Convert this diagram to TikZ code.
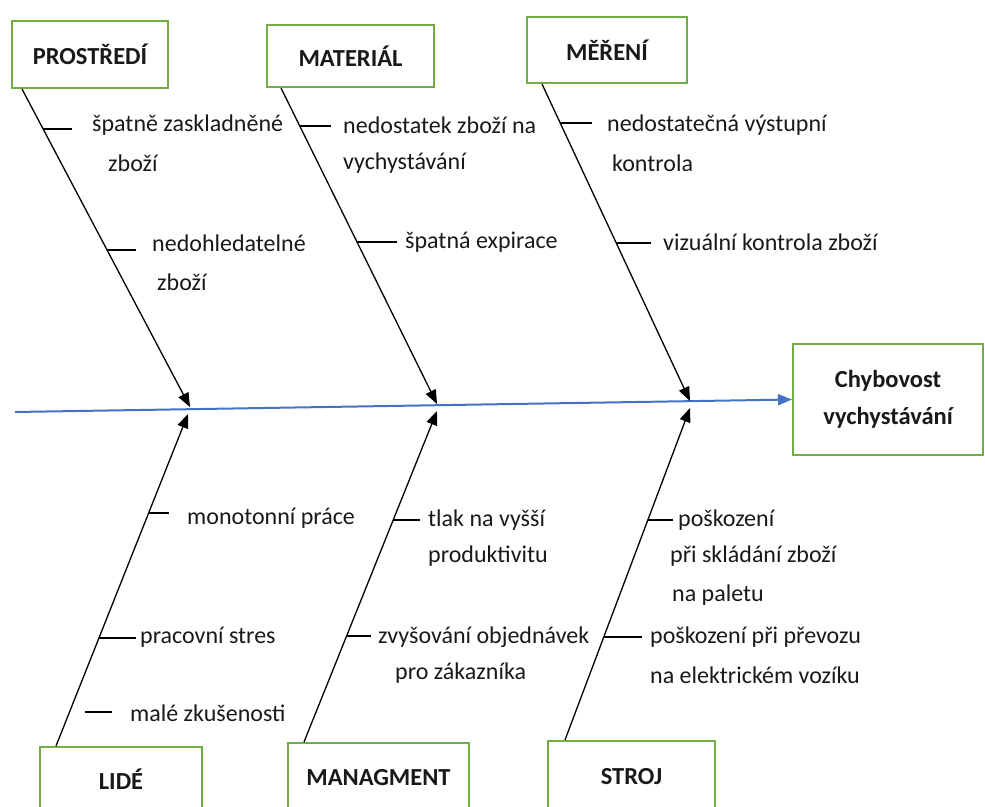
\documentclass[tikz,border=0pt]{standalone}
\usepackage{fontspec}
\setmainfont{Carlito}
\usetikzlibrary{arrows.meta}
\definecolor{boxgreen}{RGB}{112,173,71}
\definecolor{spineblue}{RGB}{68,114,196}
\definecolor{inkgray}{RGB}{25,25,25}
\begin{document}
\begin{tikzpicture}[x=1pt,y=-1pt,
  catbox/.style={draw=boxgreen,line width=2pt,fill=white,inner sep=0pt,
    font=\bfseries\fontsize{24.5}{28}\selectfont,text=inkgray},
  lbl/.style={anchor=west,inner sep=0pt,font=\fontsize{24}{28}\selectfont,text=inkgray},
  bone/.style={draw=black,line width=1.3pt,-{Triangle[length=14pt,width=11pt]}},
  tick/.style={draw=black,line width=1.3pt},
  spine/.style={draw=spineblue,line width=2pt,-{Triangle[length=14pt,width=11pt]}}]
\useasboundingbox (0,0) rectangle (985,806);

% category boxes
\node[catbox,minimum width=156pt,minimum height=67pt] (prost) at (90,54.5) {PROSTŘEDÍ};
\node[catbox,minimum width=167pt,minimum height=62pt] (mat) at (350.5,56) {MATERIÁL};
\node[catbox,minimum width=160pt,minimum height=66pt] (mer) at (607,50) {MĚŘENÍ};
\node[catbox,minimum width=162pt,minimum height=65pt] (lide) at (121,779.5) {LIDÉ};
\node[catbox,minimum width=181pt,minimum height=69pt] (man) at (378.5,777.5) {MANAGMENT};
\node[catbox,minimum width=167pt,minimum height=71pt] (stroj) at (631.5,776.5) {STROJ};

% effect box
\node[catbox,minimum width=190pt,minimum height=111pt,align=center,
  font=\bfseries\fontsize{24.5}{37}\selectfont] (eff) at (888,399.5) {Chybovost\\vychystávání};

% spine
\coordinate (tail) at (15,412);
\draw[spine] (tail) -- (eff.west);

% bone end points on the spine
\coordinate (tA) at (190,407);
\coordinate (tB) at (437,404);
\coordinate (tC) at (690,401);
\coordinate (bA) at (188,414);
\coordinate (bB) at (437,411);
\coordinate (bC) at (690,408);

% bone start points at the boxes
\coordinate (sA) at ([xshift=11pt]prost.south west);
\coordinate (sB) at ([xshift=15pt]mat.south west);
\coordinate (sC) at ([xshift=16pt]mer.south west);
\coordinate (uA) at ([xshift=17pt]lide.north west);
\coordinate (uB) at ([xshift=17pt]man.north west);
\coordinate (uC) at ([xshift=18pt]stroj.north west);

\draw[bone] (sA) -- (tA);
\draw[bone] (sB) -- (tB);
\draw[bone] (sC) -- (tC);
\draw[bone] (uA) -- (bA);
\draw[bone] (uB) -- (bB);
\draw[bone] (uC) -- (bC);

% causes: PROSTŘEDÍ
\node[lbl] (c1a) at (92,125) {špatně zaskladněné};
\node[lbl] (c1b) at (108,163) {zboží};
\draw[tick] (intersection of sA--tA and 0,129--10,129) -- ++(29,0);
\node[lbl] (c2a) at (152,243) {nedohledatelné};
\node[lbl] (c2b) at (157,282) {zboží};
\draw[tick] (intersection of sA--tA and 0,250--10,250) -- ++(29,0);

% causes: MATERIÁL
\node[lbl] (c3a) at (343,125) {nedostatek zboží na};
\node[lbl] (c3b) at (343,163) {vychystávání};
\draw[tick] (intersection of sB--tB and 0,126--10,126) -- ++(31,0);
\node[lbl] (c4) at (405,242) {špatná expirace};
\draw[tick] (intersection of sB--tB and 0,242--10,242) -- ++(40,0);

% causes: MĚŘENÍ
\node[lbl] (c5a) at (607,125) {nedostatečná výstupní};
\node[lbl] (c5b) at (612,163) {kontrola};
\draw[tick] (intersection of sC--tC and 0,123--10,123) -- ++(32,0);
\node[lbl] (c6) at (663,242) {vizuální kontrola zboží};
\draw[tick] (intersection of sC--tC and 0,243--10,243) -- ++(35,0);

% causes: LIDÉ
\node[lbl] (c7) at (187,518) {monotonní práce};
\draw[tick] (intersection of uA--bA and 0,513--10,513) -- ++(20,0);
\node[lbl] (c8) at (140,637) {pracovní stres};
\draw[tick] (intersection of uA--bA and 0,638--10,638) -- ++(37,0);
\node[lbl] (c9) at (130,713) {malé zkušenosti};
\coordinate (m9) at (85,712);
\draw[tick] (m9) -- ++(27,0);

% causes: MANAGMENT
\node[lbl] (c10a) at (428,520) {tlak na vyšší};
\node[lbl] (c10b) at (428,556) {produktivitu};
\draw[tick] (intersection of uB--bB and 0,520--10,520) -- ++(27,0);
\node[lbl] (c11a) at (378,637) {zvyšování objednávek};
\node[lbl] (c11b) at (395,673) {pro zákazníka};
\draw[tick] (intersection of uB--bB and 0,636--10,636) -- ++(24,0);

% causes: STROJ
\node[lbl] (c12a) at (678,520) {poškození};
\node[lbl] (c12b) at (670,556) {při skládání zboží};
\node[lbl] (c12c) at (672,595) {na paletu};
\draw[tick] (intersection of uC--bC and 0,520--10,520) -- ++(25,0);
\node[lbl] (c13a) at (650,637) {poškození při převozu};
\node[lbl] (c13b) at (650,675) {na elektrickém vozíku};
\draw[tick] (intersection of uC--bC and 0,637--10,637) -- ++(38,0);
\end{tikzpicture}
\end{document}
